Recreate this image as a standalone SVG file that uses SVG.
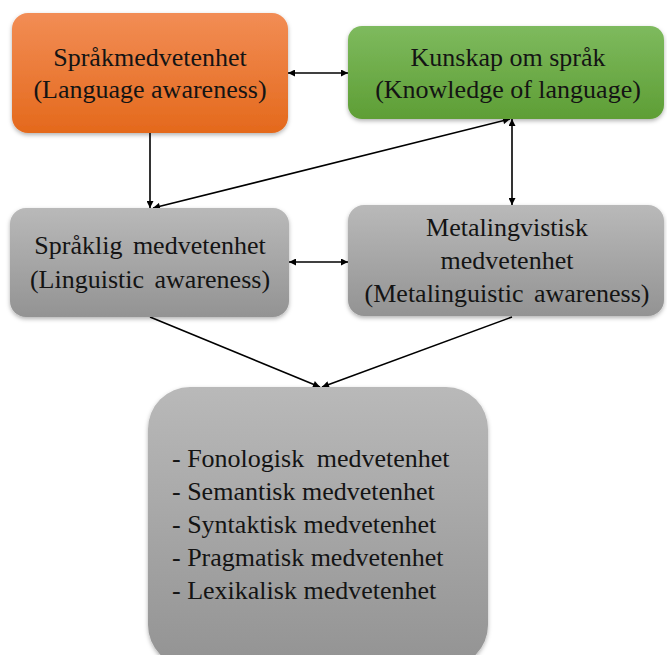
<svg xmlns="http://www.w3.org/2000/svg" width="667" height="655" viewBox="0 0 667 655">
<style>
.t{font-family:'Liberation Serif','Times New Roman','DejaVu Serif',serif;font-size:26px;fill:#141414;}
.c{text-anchor:middle;}
.e{stroke:#000;stroke-width:1.6;fill:none;}
</style>
<defs>
<linearGradient id="gOr" x1="0" y1="0" x2="0" y2="1"><stop offset="0" stop-color="#F28D55"/><stop offset="1" stop-color="#E4691C"/></linearGradient>
<linearGradient id="gGr" x1="0" y1="0" x2="0" y2="1"><stop offset="0" stop-color="#7EBA5E"/><stop offset="1" stop-color="#5E9E35"/></linearGradient>
<linearGradient id="gGy" x1="0" y1="0" x2="0" y2="1"><stop offset="0" stop-color="#B9B9B9"/><stop offset="1" stop-color="#939393"/></linearGradient>
<filter id="sh" x="-10%" y="-10%" width="120%" height="130%"><feDropShadow dx="0" dy="2" stdDeviation="2" flood-color="#000" flood-opacity="0.3"/></filter>
<marker id="ah" viewBox="0 0 10 10" refX="10" refY="5" markerWidth="8" markerHeight="7" markerUnits="userSpaceOnUse" orient="auto-start-reverse"><path d="M0,0 L10,5 L0,10 z" fill="#000"/></marker>
</defs>
<g id="connectors">
<line class="e" x1="288" y1="73" x2="348" y2="73" marker-start="url(#ah)" marker-end="url(#ah)"/>
<line class="e" x1="150" y1="133" x2="150" y2="208" marker-end="url(#ah)"/>
<line class="e" x1="153" y1="208" x2="510" y2="119" marker-start="url(#ah)" marker-end="url(#ah)"/>
<line class="e" x1="512" y1="119" x2="512" y2="205" marker-start="url(#ah)" marker-end="url(#ah)"/>
<line class="e" x1="289" y1="262" x2="348" y2="262" marker-start="url(#ah)" marker-end="url(#ah)"/>
<line class="e" x1="150" y1="317" x2="320" y2="387" marker-end="url(#ah)"/>
<line class="e" x1="512" y1="317" x2="322" y2="387" marker-end="url(#ah)"/>
</g>
<g id="n1">
<rect x="12" y="13" width="276" height="120" rx="16" fill="url(#gOr)" filter="url(#sh)"/>
<text class="t c" x="150" y="66">Språkmedvetenhet</text>
<text class="t c" x="150" y="98">(Language awareness)</text>
</g>
<g id="n2">
<rect x="348" y="26" width="316" height="93" rx="14" fill="url(#gGr)" filter="url(#sh)"/>
<text class="t c" x="508" y="66">Kunskap om språk</text>
<text class="t c" x="508" y="98">(Knowledge of language)</text>
</g>
<g id="n3">
<rect x="10" y="208" width="279" height="109" rx="16" fill="url(#gGy)" filter="url(#sh)"/>
<text class="t c" x="150" y="254" word-spacing="4">Språklig medvetenhet</text>
<text class="t c" x="150" y="288" word-spacing="4">(Linguistic awareness)</text>
</g>
<g id="n4">
<rect x="348" y="205" width="316" height="111" rx="16" fill="url(#gGy)" filter="url(#sh)"/>
<text class="t c" x="507" y="236">Metalingvistisk</text>
<text class="t c" x="507" y="269">medvetenhet</text>
<text class="t c" x="507" y="302" word-spacing="4">(Metalinguistic awareness)</text>
</g>
<g id="n5">
<rect x="148" y="387" width="340" height="280" rx="42" fill="url(#gGy)" filter="url(#sh)"/>
<text class="t" x="172" y="467">- Fonologisk <tspan dx="6">medvetenhet</tspan></text>
<text class="t" x="172" y="500">- Semantisk medvetenhet</text>
<text class="t" x="172" y="533">- Syntaktisk medvetenhet</text>
<text class="t" x="172" y="566">- Pragmatisk medvetenhet</text>
<text class="t" x="172" y="599">- Lexikalisk medvetenhet</text>
</g>
</svg>
